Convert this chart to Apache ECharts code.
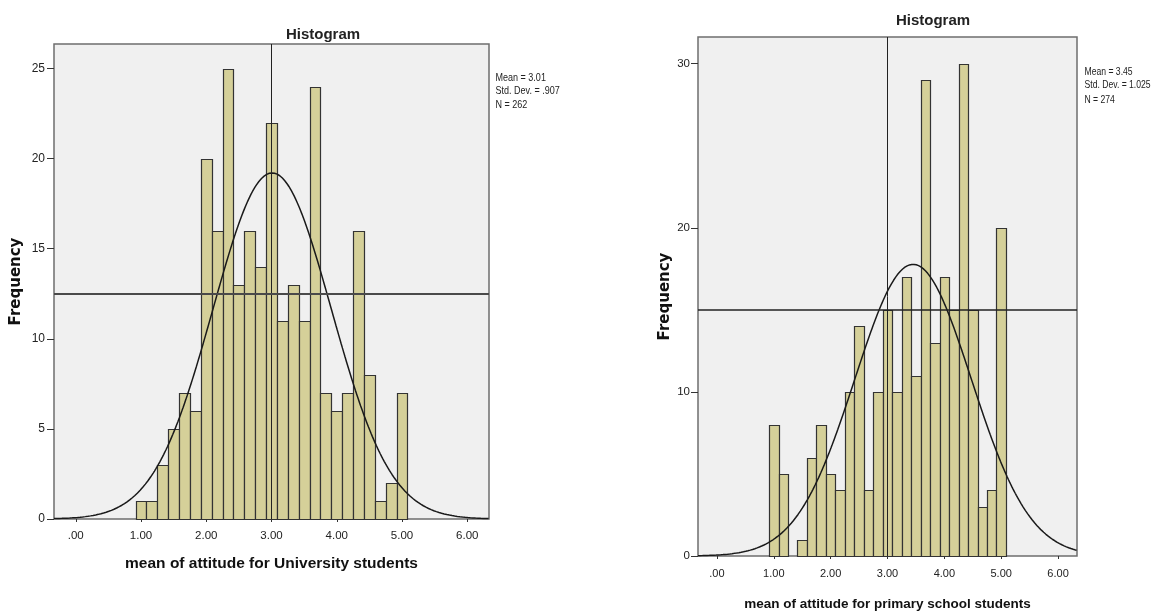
<!DOCTYPE html>
<html><head><meta charset="utf-8">
<script src="https://cdn.jsdelivr.net/npm/echarts@6/dist/echarts.min.js"></script>
<style>html,body{margin:0;padding:0;background:#fff}#c{width:1162px;height:614px}</style>
</head><body><div id="c"></div>
<script>
// ---- data ----
const firstBinCenter = 1.0;
const binWidth = 1 / 6;
const uniCounts = [1, 1, 3, 5, 7, 6, 20, 16, 25, 13, 16, 14, 22, 11, 13, 11, 24, 7, 6, 7, 16, 8, 1, 2, 7];
const priCounts = [8, 5, 0, 1, 6, 8, 5, 4, 10, 14, 4, 10, 15, 10, 17, 11, 29, 13, 17, 15, 30, 15, 3, 4, 20];
const xTickValues = [0, 1, 2, 3, 4, 5, 6];
const xTickLabels = ['.00', '1.00', '2.00', '3.00', '4.00', '5.00', '6.00'];
const uniYTicks = [0, 5, 10, 15, 20, 25];
const priYTicks = [0, 10, 20, 30];
const uniMean = 3.01, uniSD = 0.907, uniN = 262;
const priMean = 3.45, priSD = 1.025, priN = 274;
const refX = 3;
const uniRefY = 12.5;
const priRefY = 15;
const chartTitles = ['Histogram', 'Histogram'];
const xTitles = ['mean of attitude for University students', 'mean of attitude for primary school students'];
const yTitle = 'Frequency';
const uniStatsText = ['Mean = 3.01', 'Std. Dev. = .907', 'N = 262'];
const priStatsText = ['Mean = 3.45', 'Std. Dev. = 1.025', 'N = 274'];

// ---- helpers ----
const SANS = "Liberation Sans";
const XMIN = -1 / 3, XMAX = 19 / 3;

function binData(counts) {
  return counts.map((c, i) => [firstBinCenter + i * binWidth, c]);
}
function normalCurve(mean, sd, n) {
  const pts = [];
  const k = n * binWidth / (sd * Math.sqrt(2 * Math.PI));
  for (let x = XMIN; x <= XMAX + 1e-9; x += 0.02) {
    pts.push([x, k * Math.exp(-((x - mean) ** 2) / (2 * sd * sd))]);
  }
  return pts;
}
function barRender(params, api) {
  const c = api.value(0), v = api.value(1);
  if (!v) return { type: 'group', children: [] };
  const p0 = api.coord([c - binWidth / 2, v]);
  const p1 = api.coord([c + binWidth / 2, 0]);
  return {
    type: 'rect',
    shape: { x: Math.round(p0[0]) + 0.5, y: Math.round(p0[1]) + 0.5, width: Math.round(p1[0]) - Math.round(p0[0]), height: Math.round(p1[1]) - Math.round(p0[1]) },
    style: { fill: '#d5d099', stroke: '#333', lineWidth: 1.2 }
  };
}
function xAxisCfg(gi, fs, gap, lblMargin, nameSize) {
  return {
    type: 'value', gridIndex: gi, min: XMIN, max: XMAX,
    axisLine: { show: false, onZero: false },
    splitLine: { show: false },
    axisTick: { show: true, customValues: xTickValues, length: 3, lineStyle: { color: '#333' } },
    axisLabel: { customValues: xTickValues, formatter: v => xTickLabels[xTickValues.indexOf(Math.round(v))], fontFamily: SANS, fontSize: fs, color: '#222', margin: lblMargin },
    name: xTitles[gi], nameLocation: 'middle', nameGap: gap,
    nameTextStyle: { fontFamily: SANS, fontWeight: 'bold', fontSize: nameSize, color: '#111' }
  };
}
function yAxisCfg(gi, max, ticks, fs, gap, lblMargin) {
  return {
    type: 'value', gridIndex: gi, min: 0, max: max,
    axisLine: { show: false, onZero: false },
    splitLine: { show: false },
    axisTick: { show: true, customValues: ticks, length: 7, lineStyle: { color: '#333' } },
    axisLabel: { customValues: ticks, formatter: v => String(Math.round(v)), fontFamily: SANS, fontSize: fs, color: '#222', margin: lblMargin },
    name: yTitle, nameLocation: 'middle', nameGap: gap,
    nameTextStyle: { fontFamily: 'DejaVu Sans', fontWeight: 'bold', fontSize: 15, color: '#111' }
  };
}
function refLines(refY, hColor, hWidth) {
  return {
    silent: true, symbol: 'none', label: { show: false },
    data: [
      { xAxis: refX, lineStyle: { color: '#222', width: 1, type: 'solid' } },
      { yAxis: refY, lineStyle: { color: hColor, width: hWidth, type: 'solid' } }
    ]
  };
}
function textEl(txt, x, y, size, bold, align, sx) {
  return { type: 'text', x: x, y: y, silent: true, scaleX: sx || 1,
    style: { text: txt, fontFamily: SANS, fontSize: size, fontWeight: bold ? 'bold' : 'normal', fill: '#222',
      textAlign: align, align: align, textVerticalAlign: 'middle', verticalAlign: 'middle' } };
}

const chart = echarts.init(document.getElementById('c'), null, { renderer: 'canvas' });
chart.setOption({
  backgroundColor: '#ffffff',
  animation: false,
  grid: [
    { left: 54, top: 44, width: 435, height: 475, show: true, backgroundColor: '#f0f0f0', borderColor: '#6e6e6e', borderWidth: 1.5, containLabel: false, outerBoundsMode: 'none' },
    { left: 698, top: 37, width: 379, height: 519, show: true, backgroundColor: '#f0f0f0', borderColor: '#6e6e6e', borderWidth: 1.5, containLabel: false, outerBoundsMode: 'none' }
  ],
  xAxis: [xAxisCfg(0, 11.5, 37, 11, 15.5), xAxisCfg(1, 11, 41, 12, 13.5)],
  yAxis: [yAxisCfg(0, 26.36, uniYTicks, 12, 30, 9), yAxisCfg(1, 31.63, priYTicks, 11.5, 25, 8)],
  graphic: [
    textEl(chartTitles[0], 323, 34.5, 15, true, 'center'),
    textEl(chartTitles[1], 933, 21, 15, true, 'center'),
    textEl(uniStatsText[0], 495.5, 77.5, 11, false, 'left', 0.82),
    textEl(uniStatsText[1], 495.5, 91, 11, false, 'left', 0.82),
    textEl(uniStatsText[2], 495.5, 104.5, 11, false, 'left', 0.82),
    textEl(priStatsText[0], 1084.5, 72, 10.5, false, 'left', 0.82),
    textEl(priStatsText[1], 1084.5, 85.5, 10.5, false, 'left', 0.82),
    textEl(priStatsText[2], 1084.5, 100, 10.5, false, 'left', 0.82)
  ],
  series: [
    { type: 'custom', xAxisIndex: 0, yAxisIndex: 0, renderItem: barRender, data: binData(uniCounts), z: 2 },
    { type: 'line', xAxisIndex: 0, yAxisIndex: 0, data: normalCurve(uniMean, uniSD, uniN), showSymbol: false, symbol: 'none',
      lineStyle: { color: '#1a1a1a', width: 1.5 }, z: 3, markLine: refLines(uniRefY, '#4a4a4a', 2) },
    { type: 'custom', xAxisIndex: 1, yAxisIndex: 1, renderItem: barRender, data: binData(priCounts), z: 2 },
    { type: 'line', xAxisIndex: 1, yAxisIndex: 1, data: normalCurve(priMean, priSD, priN), showSymbol: false, symbol: 'none',
      lineStyle: { color: '#1a1a1a', width: 1.5 }, z: 3, markLine: refLines(priRefY, '#222', 1.5) }
  ]
});
</script>
</body></html>
